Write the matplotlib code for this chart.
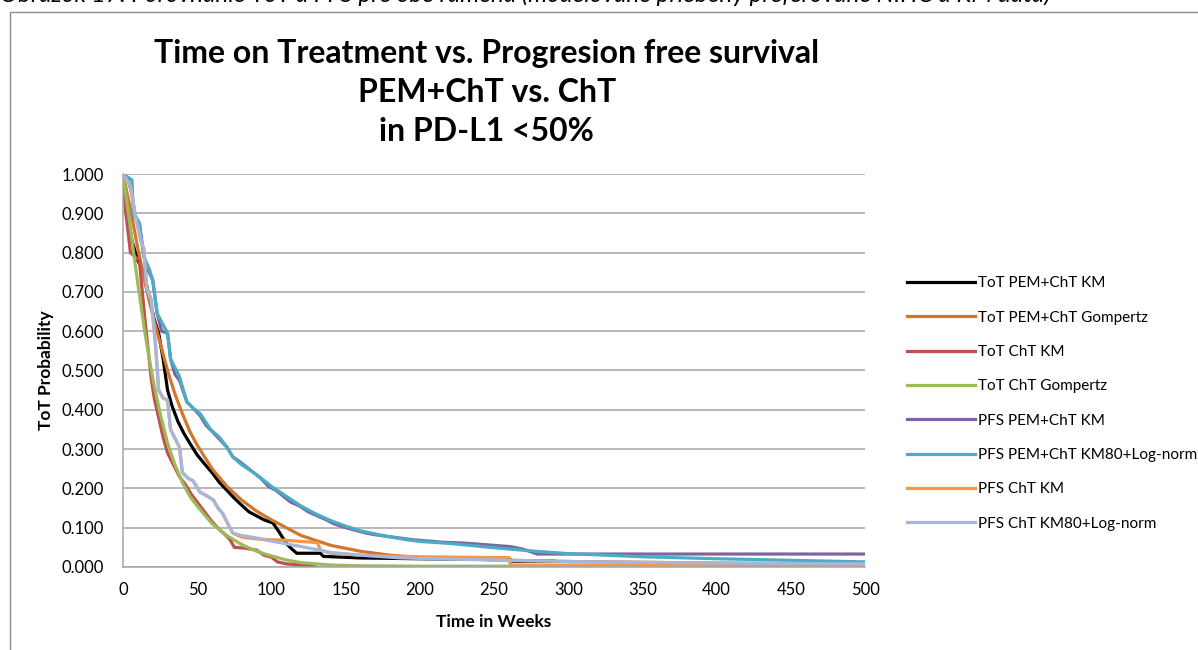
import matplotlib
matplotlib.use("Agg")
import matplotlib.pyplot as plt
from matplotlib.patches import Rectangle
from matplotlib.ticker import FormatStrFormatter, MultipleLocator

plt.rcParams["font.family"] = ["Lato", "DejaVu Sans"]

# ToT PEM+ChT KM
tot_pem_km_t = [0, 3, 6, 10, 14, 18, 21, 24, 27, 30, 33, 37, 41, 45, 50, 55, 60, 65, 70, 75,
                80, 85, 90, 95, 101, 105, 108, 111, 114, 117, 125, 133, 135, 160, 200, 249, 261,
                262, 290]
tot_pem_km_p = [1.0, 0.90, 0.83, 0.78, 0.75, 0.68, 0.63, 0.595, 0.53, 0.45, 0.41, 0.37, 0.34, 0.315,
                0.285, 0.262, 0.24, 0.215, 0.195, 0.175, 0.157, 0.14, 0.13, 0.12, 0.112, 0.09, 0.072,
                0.056, 0.045, 0.035, 0.035, 0.035, 0.027, 0.023, 0.021, 0.019, 0.019, 0.015, 0.015]

# ToT PEM+ChT Gompertz
tot_pem_gomp_t = [0, 5, 10, 15, 20, 25, 30, 35, 40, 45, 50, 60, 70, 80, 90, 100, 120, 140, 160,
                  180, 200, 250, 300, 350, 400, 450, 500]
tot_pem_gomp_p = [1.0, 0.91, 0.81, 0.72, 0.64, 0.57, 0.50, 0.44, 0.39, 0.345, 0.31, 0.25, 0.205,
                  0.17, 0.142, 0.12, 0.08, 0.055, 0.04, 0.03, 0.024, 0.018, 0.014, 0.012, 0.010,
                  0.009, 0.008]

# ToT ChT KM
tot_cht_km_t = [0, 1, 5, 8, 11, 13, 15, 17, 19, 21, 24, 27, 30, 34, 38, 42, 46, 50, 55, 60, 65,
                68, 72, 75, 82, 90, 95, 100, 104, 110, 120, 130]
tot_cht_km_p = [1.0, 0.93, 0.80, 0.79, 0.78, 0.70, 0.62, 0.55, 0.48, 0.43, 0.38, 0.33, 0.29, 0.26,
                0.23, 0.21, 0.185, 0.165, 0.14, 0.115, 0.095, 0.085, 0.07, 0.05, 0.048, 0.043,
                0.03, 0.025, 0.013, 0.008, 0.005, 0.0]

# ToT ChT Gompertz
tot_cht_gomp_t = [0, 5, 10, 15, 20, 25, 30, 35, 40, 45, 50, 60, 70, 80, 90, 100, 110, 120, 140,
                  160, 200, 261]
tot_cht_gomp_p = [1.0, 0.86, 0.72, 0.59, 0.48, 0.39, 0.315, 0.26, 0.215, 0.18, 0.155, 0.11, 0.08,
                  0.057, 0.04, 0.028, 0.018, 0.011, 0.005, 0.003, 0.002, 0.002]

# PFS PEM+ChT KM
pfs_pem_km_t = [0, 3, 6, 8, 11, 14, 17, 20, 23, 26, 30, 32, 35, 38, 43, 47, 52, 56, 60, 65, 70,
                74, 78, 83, 88, 93, 98, 103, 108, 113, 119, 125, 131, 137, 142, 150, 157, 164,
                170, 178, 186, 196, 206, 215, 229, 240, 250, 261, 270, 279, 500]
pfs_pem_km_p = [1.0, 0.99, 0.95, 0.895, 0.875, 0.79, 0.755, 0.73, 0.645, 0.6, 0.595, 0.53, 0.49,
                0.475, 0.42, 0.405, 0.385, 0.36, 0.345, 0.325, 0.305, 0.28, 0.27, 0.255, 0.24,
                0.225, 0.205, 0.195, 0.18, 0.165, 0.155, 0.14, 0.13, 0.12, 0.11, 0.10, 0.093,
                0.086, 0.082, 0.078, 0.074, 0.069, 0.066, 0.063, 0.061, 0.058, 0.055, 0.052,
                0.045, 0.033, 0.033]

# PFS PEM+ChT KM80 + Log-normal tail
pfs_pem_km80_t = [0, 6, 7, 11, 14, 18, 20, 23, 30, 32, 38, 43, 47, 52, 59, 65, 70, 74, 80,
                  90, 100, 110, 120, 130, 140, 150, 160, 175, 190, 200, 220, 250, 275, 300,
                  350, 400, 450, 500]
pfs_pem_km80_p = [1.0, 0.985, 0.895, 0.875, 0.79, 0.755, 0.73, 0.645, 0.595, 0.53, 0.485, 0.42,
                  0.405, 0.39, 0.35, 0.33, 0.305, 0.28, 0.26,
                  0.235, 0.205, 0.18, 0.155, 0.135, 0.118, 0.104, 0.092, 0.08, 0.07,
                  0.065, 0.06, 0.049, 0.041, 0.034, 0.026, 0.021, 0.017, 0.013]

# PFS ChT KM
pfs_cht_km_t = [0, 5, 8, 12, 14, 16, 19, 22, 24, 27, 30, 32, 36, 38, 40, 44, 47, 52, 57, 61, 64,
                67, 72, 74, 80, 86, 95, 110, 120, 131, 133, 140, 160, 175, 200, 249, 260, 261, 500]
pfs_cht_km_p = [1.0, 0.97, 0.9, 0.83, 0.81, 0.71, 0.68, 0.56, 0.45, 0.43, 0.425, 0.35, 0.32,
                0.305, 0.24, 0.225, 0.22, 0.19, 0.18, 0.17, 0.15, 0.137, 0.10, 0.086, 0.076,
                0.073, 0.07, 0.068, 0.065, 0.062, 0.043, 0.035, 0.03, 0.028, 0.026, 0.024, 0.024,
                0.005, 0.004]

# PFS ChT KM80 + Log-normal tail
pfs_cht_km80_t = [0, 5, 8, 12, 14, 16, 19, 22, 24, 27, 30, 32, 36, 38, 40, 44, 47, 52, 57, 61,
                  64, 67, 72, 74, 80, 90, 100, 120, 140, 160, 187, 220, 263, 300, 350, 400,
                  450, 500]
pfs_cht_km80_p = [1.0, 0.97, 0.9, 0.83, 0.81, 0.71, 0.68, 0.56, 0.45, 0.43, 0.425, 0.35, 0.32,
                  0.305, 0.24, 0.225, 0.22, 0.19, 0.18, 0.17, 0.15, 0.137, 0.10, 0.086, 0.08,
                  0.074, 0.066, 0.052, 0.037, 0.03, 0.023, 0.02, 0.017, 0.014, 0.012, 0.010,
                  0.009, 0.008]

labels = ["ToT PEM+ChT KM", "ToT PEM+ChT Gompertz", "ToT ChT KM", "ToT ChT Gompertz",
          "PFS PEM+ChT KM", "PFS PEM+ChT KM80+Log-norm", "PFS ChT KM", "PFS ChT KM80+Log-norm"]
colors = ["#000000", "#D2762E", "#C0504D", "#9BBB59", "#8064A2", "#4BACC6", "#F79646", "#A5B7DA"]

series = [
    (tot_pem_km_t, tot_pem_km_p),
    (tot_pem_gomp_t, tot_pem_gomp_p),
    (tot_cht_km_t, tot_cht_km_p),
    (tot_cht_gomp_t, tot_cht_gomp_p),
    (pfs_pem_km_t, pfs_pem_km_p),
    (pfs_pem_km80_t, pfs_pem_km80_p),
    (pfs_cht_km_t, pfs_cht_km_p),
    (pfs_cht_km80_t, pfs_cht_km80_p),
]

fig = plt.figure(figsize=(11.98, 6.5), dpi=100)
ax = fig.add_axes([0.1027, 0.1277, 0.6194, 0.6046])

for (t, p), lab, col in zip(series, labels, colors):
    ax.plot(t, p, color=col, lw=2.3, label=lab, solid_joinstyle="round")

ax.set_xlim(0, 500)
ax.set_ylim(0, 1.0)
ax.xaxis.set_major_locator(MultipleLocator(50))
ax.yaxis.set_major_locator(MultipleLocator(0.1))
ax.yaxis.set_major_formatter(FormatStrFormatter("%.3f"))
ax.grid(axis="y", color="#A6A6A6", lw=1.1)
ax.set_axisbelow(True)
for s in ["top", "right"]:
    ax.spines[s].set_visible(False)
for s in ["left", "bottom"]:
    ax.spines[s].set_color("#A6A6A6")
    ax.spines[s].set_linewidth(1.1)
ax.tick_params(axis="y", length=0, pad=14, labelsize=12)
ax.tick_params(axis="x", length=0, pad=11, labelsize=12)

ax.set_xlabel("Time in Weeks", fontsize=12.5, fontweight="bold", labelpad=11)
ax.set_ylabel("ToT Probability", fontsize=12.5, fontweight="bold", labelpad=5)

ax.set_title("Time on Treatment vs. Progresion free survival\nPEM+ChT vs. ChT\nin PD-L1 <50%",
             fontsize=23, fontweight="bold", linespacing=1.4, pad=24, x=0.49)

fig.legend(loc="upper left", bbox_to_anchor=(0.746, 0.596), frameon=False,
           fontsize=11, handlelength=4.4, handletextpad=0.2, labelspacing=1.33)

# chart border and clipped caption
fig.add_artist(Rectangle((0.0083, -0.05), 1.1, 1.0315, transform=fig.transFigure,
                         fill=False, ec="#8C8C8C", lw=1.0))
fig.text(0.0, 0.997, "Obrázok 17: Porovnanie ToT a PFS pre obe ramená (modelované priebehy "
         "preferované NIHC a KM data)", style="italic", fontsize=17.5, va="baseline")

fig.savefig("out.png", dpi=100)
